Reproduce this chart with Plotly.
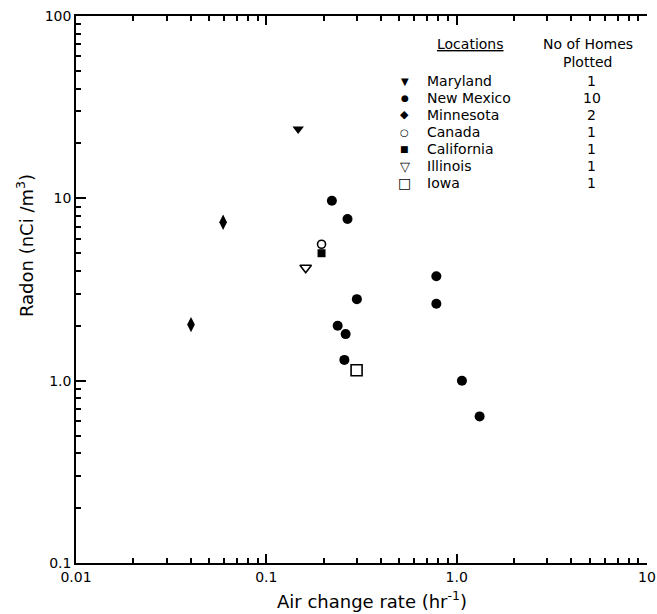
import plotly.graph_objects as go

# ---------------- data ----------------
md_x = [0.147]
md_y = [24.0]

nm_x = [0.221, 0.267, 0.299, 0.237, 0.261, 0.257, 0.782, 0.782, 1.066, 1.32]
nm_y = [9.7, 7.7, 2.8, 2.0, 1.8, 1.3, 3.74, 2.64, 1.0, 0.637]

mn_x = [0.0593, 0.0402]
mn_y = [7.4, 2.03]

ca_x = [0.195]
ca_y = [5.6]

cal_x = [0.195]
cal_y = [5.0]

il_x = [0.161]
il_y = [4.16]

ia_x = [0.298]
ia_y = [1.14]

locations = ["Maryland", "New Mexico", "Minnesota", "Canada", "California", "Illinois", "Iowa"]
homes = ["1", "10", "2", "1", "1", "1", "1"]

x_ticks = [0.01, 0.1, 1, 10]
x_ticktext = ["0.01", "0.1", "1.0", "10"]
y_ticks = [0.1, 1, 10, 100]
y_ticktext = ["0.1", "1.0", "10", "100"]

# ---------------- layout geometry ----------------
W, H = 657, 614
L, R, T, B = 76, 647.5, 16, 563
FONT = "DejaVu Sans"
LEG_SIZE = 14

def px_x(p):
    return (p - L) / (R - L)

def px_y(p):
    return (B - p) / (B - T)

styles = [
    dict(symbol="triangle-down", size=10, color="black", line=dict(width=0)),
    dict(symbol="circle", size=10, color="black", line=dict(width=0)),
    dict(symbol="diamond-tall", size=11, color="black", line=dict(width=0)),
    dict(symbol="circle-open", size=8, color="black", line=dict(width=1.6)),
    dict(symbol="square", size=8, color="black", line=dict(width=0)),
    dict(symbol="triangle-down-open", size=10, color="black", line=dict(width=1.6)),
    dict(symbol="square-open", size=11, color="black", line=dict(width=1.6)),
]
# legend glyphs (same order as locations)
glyphs = ["\u25BC", "\u25CF", "\u25C6", "\u25CB", "\u25A0", "\u25BD", "\u25A1"]
glyph_sizes = [10, 9, 11, 10, 9, 13, 14]

series = [(md_x, md_y), (nm_x, nm_y), (mn_x, mn_y), (ca_x, ca_y),
          (cal_x, cal_y), (il_x, il_y), (ia_x, ia_y)]

fig = go.Figure()
for (xs, ys), st, name in zip(series, styles, locations):
    fig.add_trace(go.Scatter(x=xs, y=ys, mode="markers", name=name,
                             marker=st, showlegend=False, hoverinfo="x+y+name"))

# ---------------- custom legend ----------------
row0, dy = 81, 17
leg_sym_x = 405
leg_name_x = 425
leg_cnt_x = 592
for i, (g, gs, name, cnt) in enumerate(zip(glyphs, glyph_sizes, locations, homes)):
    py = row0 + dy * i
    fig.add_annotation(x=px_x(leg_sym_x), y=px_y(py), xref="paper", yref="paper",
                       text=g, showarrow=False, xanchor="center", yanchor="middle",
                       font=dict(family="DejaVu Sans", size=gs, color="black"))
    fig.add_annotation(x=px_x(leg_name_x), y=px_y(py), xref="paper", yref="paper",
                       text=name, showarrow=False, xanchor="left", yanchor="middle",
                       font=dict(family=FONT, size=LEG_SIZE, color="black"))
    fig.add_annotation(x=px_x(leg_cnt_x), y=px_y(py), xref="paper", yref="paper",
                       text=cnt, showarrow=False, xanchor="center", yanchor="middle",
                       font=dict(family=FONT, size=LEG_SIZE, color="black"))

fig.add_annotation(x=px_x(471), y=px_y(44), xref="paper", yref="paper",
                   text="<u>Locations</u>", showarrow=False, xanchor="center", yanchor="middle",
                   font=dict(family=FONT, size=LEG_SIZE, color="black"))
fig.add_annotation(x=px_x(588), y=px_y(44), xref="paper", yref="paper",
                   text="No of Homes", showarrow=False, xanchor="center", yanchor="middle",
                   font=dict(family=FONT, size=LEG_SIZE, color="black"))
fig.add_annotation(x=px_x(588), y=px_y(62), xref="paper", yref="paper",
                   text="Plotted", showarrow=False, xanchor="center", yanchor="middle",
                   font=dict(family=FONT, size=LEG_SIZE, color="black"))

# axis titles placed like the original
fig.add_annotation(x=px_x(25), y=px_y(246), xref="paper", yref="paper",
                   text="Radon (nCi /m<sup>3</sup>)", showarrow=False, textangle=-90,
                   xanchor="center", yanchor="middle",
                   font=dict(family=FONT, size=18, color="black"))
fig.add_annotation(x=px_x(372), y=px_y(600), xref="paper", yref="paper",
                   text="Air change rate (hr<sup>-1</sup>)", showarrow=False,
                   xanchor="center", yanchor="middle",
                   font=dict(family=FONT, size=18, color="black"))

x_minor = [m * 10 ** e for e in (-2, -1, 0) for m in range(2, 10)]
y_minor = [m * 10 ** e for e in (-1, 0, 1) for m in range(2, 10)]

fig.update_layout(
    width=W, height=H,
    margin=dict(l=L, r=W - R, t=T, b=H - B, pad=0, autoexpand=False),
    paper_bgcolor="white", plot_bgcolor="white",
    font=dict(family=FONT, size=14, color="black"),
    xaxis=dict(type="log", range=[-2, 1], showgrid=False, zeroline=False, automargin=False,
               showline=True, linecolor="black", linewidth=1.5, mirror="allticks",
               ticks="inside", ticklen=9, tickwidth=1.8, tickcolor="black",
               tickmode="array", tickvals=x_ticks, ticktext=x_ticktext, tickfont=dict(size=14),
               minor=dict(tickmode="array", tickvals=x_minor, ticks="inside", ticklen=5,
                          tickwidth=1.5, tickcolor="black", showgrid=False)),
    yaxis=dict(type="log", range=[-1, 2], showgrid=False, zeroline=False, automargin=False,
               showline=True, linecolor="black", linewidth=1.5, mirror=False,
               ticks="inside", ticklen=10, tickwidth=1.8, tickcolor="black",
               tickmode="array", tickvals=y_ticks, ticktext=y_ticktext, tickfont=dict(size=14),
               minor=dict(tickmode="array", tickvals=y_minor, ticks="inside", ticklen=5,
                          tickwidth=1.5, tickcolor="black", showgrid=False)),
    showlegend=False,
)

fig.write_html("out.html", config={"displayModeBar": False},
               post_script="document.body.style.margin='0';document.body.style.overflow='hidden';")
